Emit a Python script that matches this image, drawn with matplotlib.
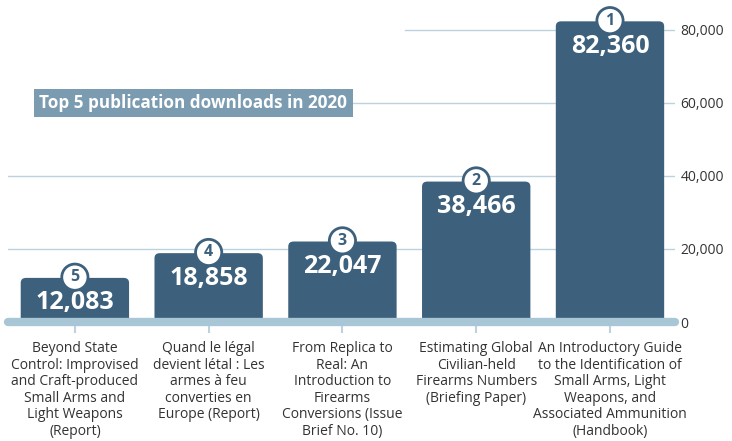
import matplotlib
matplotlib.use("Agg")
import matplotlib.pyplot as plt
from matplotlib.patches import FancyBboxPatch

# data
titles = [
    "Beyond State\nControl: Improvised\nand Craft-produced\nSmall Arms and\nLight Weapons\n(Report)",
    "Quand le légal\ndevient létal : Les\narmes à feu\nconverties en\nEurope (Report)",
    "From Replica to\nReal: An\nIntroduction to\nFirearms\nConversions (Issue\nBrief No. 10)",
    "Estimating Global\nCivilian-held\nFirearms Numbers\n(Briefing Paper)",
    "An Introductory Guide\nto the Identification of\nSmall Arms, Light\nWeapons, and\nAssociated Ammunition\n(Handbook)",
]
downloads = [12083, 18858, 22047, 38466, 82360]
ranks = [5, 4, 3, 2, 1]
yticks = [0, 20000, 40000, 60000, 80000]

DARK = "#3d617c"
BOX = "#7b9bb1"
BASE = "#a9c6d6"
GRID = "#bcd3df"
FONT = "Open Sans"

plt.rcParams['font.family'] = [FONT, 'DejaVu Sans']

fig = plt.figure(figsize=(7.32, 4.41), dpi=100)
ax = fig.add_axes([8 / 732, 119 / 441, 667 / 732, 322 / 441])
ax.set_xlim(-0.5, 4.486)
ax.set_ylim(0, 88200)

x = list(range(len(downloads)))

# gridlines (partly hidden in the original)
ax.axhline(20000, color=GRID, lw=1, zorder=0)
ax.axhline(40000, color=GRID, lw=1, zorder=0)
ax.axhline(60000, xmin=0.516, color=GRID, lw=1, zorder=0)
ax.axhline(80000, xmin=0.595, color=GRID, lw=1, zorder=0)

bars = ax.bar(x, downloads, width=0.81, color=DARK, zorder=2)
for b in bars:
    x0, y0 = b.get_x(), b.get_y()
    w, h = b.get_width(), b.get_height()
    b.set_visible(False)
    p = FancyBboxPatch((x0, y0 - 1500), w, h + 1500,
                       boxstyle="round,pad=0,rounding_size=0.04",
                       mutation_aspect=34000, fc=DARK, ec="none", zorder=2)
    ax.add_patch(p)

# baseline
ax.plot([-0.5, 4.486], [0, 0], color=BASE, lw=6, solid_capstyle="round",
        zorder=3, clip_on=False)

for xi, v, r in zip(x, downloads, ranks):
    ax.annotate(f"{v:,}", (xi, v), xytext=(0, -18), textcoords="offset points",
                ha="center", va="center", color="white", fontsize=18,
                fontweight="bold", zorder=5)
    ax.annotate(str(r), (xi, v), xytext=(0, 0.5), textcoords="offset points",
                ha="center", va="center", color=DARK, fontsize=11.5,
                fontweight="bold", zorder=6,
                bbox=dict(boxstyle="circle,pad=0.32", fc="white", ec=DARK, lw=2))

ax.text(-0.265, 60000, "Top 5 publication downloads in 2020", ha="left",
        va="center", color="white", fontsize=12.3, fontweight="bold",
        bbox=dict(boxstyle="square,pad=0.3", fc=BOX, ec="none"), zorder=4)

ax.set_xticks(x)
ax.set_xticklabels(titles, fontsize=10, color="#333333", linespacing=1.13)
ax.tick_params(axis="x", length=8, width=1.5, color=GRID, pad=6)

ax.yaxis.tick_right()
ax.set_yticks(yticks)
ax.set_yticklabels([f"{t:,}" for t in yticks], fontsize=10, color="#333333")
ax.tick_params(axis="y", length=0, pad=4)

for s in ax.spines.values():
    s.set_visible(False)

fig.savefig("out.png", dpi=100)
